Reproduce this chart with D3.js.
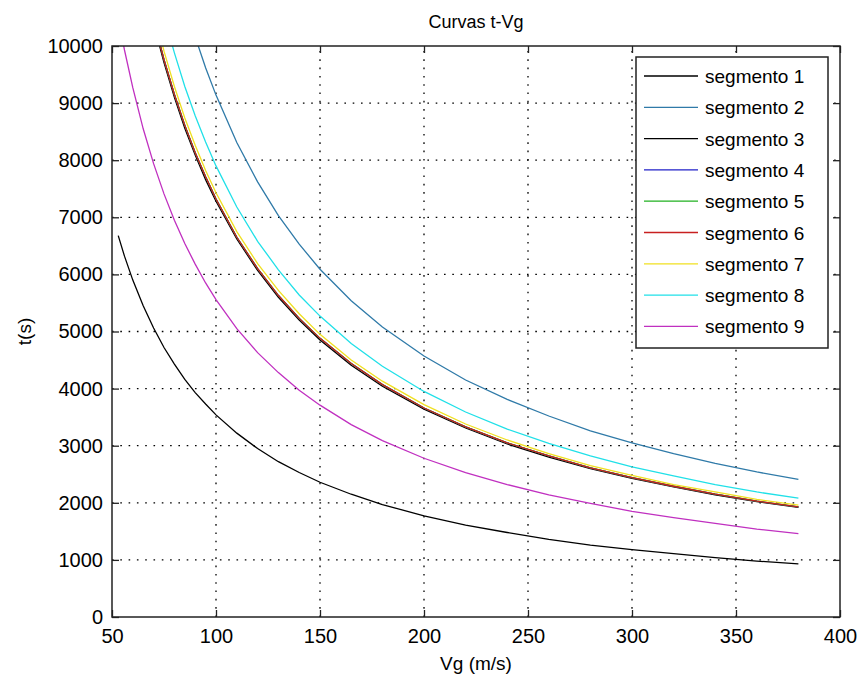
<!DOCTYPE html>
<html><head><meta charset="utf-8">
<script src="https://cdn.jsdelivr.net/npm/d3@7"></script>
<style>body{margin:0;background:#fff;} text{font-family:"Liberation Sans",Arial,sans-serif;fill:#000;}</style>
</head><body><svg id="c" width="860" height="677"></svg>
<script>
const titleText = "Curvas t-Vg";
const xLabel = "Vg (m/s)";
const yLabel = "t(s)";
const xTicks = [50,100,150,200,250,300,350,400];
const yTicks = [0,1000,2000,3000,4000,5000,6000,7000,8000,9000,10000];
const vg = [53,56,60,65,70,75,80,85,90,95,100,110,120,130,140,150,165,180,200,220,240,260,280,300,320,340,360,380];
const seg1 = [6680,6320,5900,5450,5060,4720,4430,4160,3930,3730,3540,3220,2950,2720,2530,2360,2150,1970,1770,1610,1480,1360,1260,1180,1110,1040,980,930];
const seg2 = [null,null,null,null,null,null,null,null,10160,9620,9140,8310,7620,7030,6530,6090,5540,5080,4570,4150,3810,3520,3260,3050,2860,2690,2540,2410];
const seg3 = [null,null,null,null,10400,9710,9100,8560,8090,7660,7280,6620,6070,5600,5200,4850,4410,4040,3640,3310,3030,2800,2600,2430,2280,2140,2020,1920];
const seg4 = [null,null,null,null,10460,9760,9150,8610,8130,7710,7320,6650,6100,5630,5230,4880,4440,4070,3660,3330,3050,2820,2610,2440,2290,2150,2030,1930];
const seg5 = [null,null,null,null,10460,9760,9150,8610,8130,7710,7320,6650,6100,5630,5230,4880,4440,4070,3660,3330,3050,2820,2610,2440,2290,2150,2030,1930];
const seg6 = [null,null,null,null,10460,9760,9150,8610,8130,7710,7320,6650,6100,5630,5230,4880,4440,4070,3660,3330,3050,2820,2610,2440,2290,2150,2030,1930];
const seg7 = [null,null,null,null,10610,9910,9290,8740,8260,7820,7430,6750,6190,5720,5310,4950,4500,4130,3720,3380,3100,2860,2650,2480,2320,2190,2060,1960];
const seg8 = [null,null,null,null,null,10530,9880,9290,8780,8320,7900,7180,6580,6080,5640,5270,4790,4390,3950,3590,3290,3040,2820,2630,2470,2320,2190,2080];
const seg9 = [10490,9930,9270,8550,7940,7410,6950,6540,6180,5850,5560,5050,4630,4280,3970,3710,3370,3090,2780,2530,2320,2140,1990,1850,1740,1640,1540,1460];
const seriesNames = ["segmento 1","segmento 2","segmento 3","segmento 4","segmento 5","segmento 6","segmento 7","segmento 8","segmento 9"];
const seriesValues = [seg1,seg2,seg3,seg4,seg5,seg6,seg7,seg8,seg9];
const seriesColors = ["#000000","#2f7aa8","#000000","#2020c8","#20b020","#c82020","#f0e020","#20e0e8","#c030c0"];

const L=112, R=840, T=46, B=617;
const svg = d3.select("#c");
const x = d3.scaleLinear().domain([50,400]).range([L,R]);
const y = d3.scaleLinear().domain([0,10000]).range([B,T]);

svg.append("defs").append("clipPath").attr("id","clip").append("rect")
  .attr("x",L).attr("y",T).attr("width",R-L).attr("height",B-T);

// grid
const grid = svg.append("g").attr("stroke","#000").attr("stroke-width",1.3).attr("stroke-dasharray","1.6,6.7");
grid.selectAll(".gx").data(xTicks.slice(1,-1)).join("line")
  .attr("x1",d=>x(d)).attr("x2",d=>x(d)).attr("y1",B).attr("y2",T);
grid.selectAll(".gy").data(yTicks.slice(1,-1)).join("line")
  .attr("y1",d=>y(d)).attr("y2",d=>y(d)).attr("x1",L).attr("x2",R);

// curves
const line = d3.line().defined(d=>d[1]!==null).x(d=>x(d[0])).y(d=>y(d[1]));
const cg = svg.append("g").attr("clip-path","url(#clip)");
seriesValues.forEach((vals,i)=>{
  cg.append("path").datum(vg.map((v,j)=>[v,vals[j]]))
    .attr("d",line).attr("fill","none").attr("stroke",seriesColors[i]).attr("stroke-width",1.3);
});

// axes
const fs = "20px";
const fmt = d3.format("d");
const xAxis = d3.axisBottom(x).tickValues(xTicks).tickSize(-7).tickPadding(12).tickFormat(fmt);
const gx = svg.append("g").attr("transform",`translate(0,${B})`).call(xAxis);
gx.selectAll("text").style("font-size",fs).attr("fill","#000");
const xAxisTop = d3.axisTop(x).tickValues(xTicks).tickSize(-7).tickFormat("");
svg.append("g").attr("transform",`translate(0,${T})`).call(xAxisTop);
const yAxis = d3.axisLeft(y).tickValues(yTicks).tickSize(-7).tickPadding(9).tickFormat(fmt);
const gy = svg.append("g").attr("transform",`translate(${L},0)`).call(yAxis);
gy.selectAll("text").style("font-size",fs).attr("fill","#000");
const yAxisR = d3.axisRight(y).tickValues(yTicks).tickSize(-7).tickFormat("");
svg.append("g").attr("transform",`translate(${R},0)`).call(yAxisR);
svg.selectAll(".domain").remove();
svg.selectAll(".tick line").attr("stroke","#222").attr("stroke-width",1.3);
svg.append("rect").attr("x",L).attr("y",T).attr("width",R-L).attr("height",B-T)
  .attr("fill","none").attr("stroke","#222").attr("stroke-width",1.5);

// labels
svg.append("text").attr("x",(L+R)/2).attr("y",28).attr("text-anchor","middle").style("font-size","18px").text(titleText);
svg.append("text").attr("x",(L+R)/2).attr("y",670).attr("text-anchor","middle").style("font-size","19px").text(xLabel);
svg.append("text").attr("transform",`translate(31,${(T+B)/2}) rotate(-90)`).attr("text-anchor","middle").style("font-size","19px").text(yLabel);

// legend
const lgX=636, lgY=57, lgW=192, lgH=291, rowH=31.3, row0=76;
const lg = svg.append("g");
lg.append("rect").attr("x",lgX).attr("y",lgY).attr("width",lgW).attr("height",lgH)
  .attr("fill","#fff").attr("stroke","#222").attr("stroke-width",1.5);
seriesNames.forEach((n,i)=>{
  const yy = row0 + i*rowH;
  lg.append("line").attr("x1",lgX+8).attr("x2",lgX+62).attr("y1",yy).attr("y2",yy)
    .attr("stroke",seriesColors[i]).attr("stroke-width",1.3);
  lg.append("text").attr("x",lgX+69).attr("y",yy+7).style("font-size","19px").text(n);
});
</script></body></html>
